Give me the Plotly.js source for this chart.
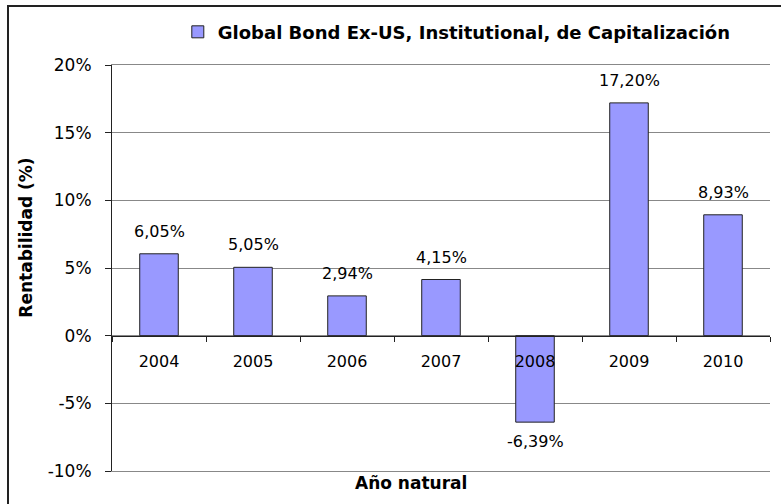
<!DOCTYPE html>
<html>
<head>
<meta charset="utf-8">
<script src="https://cdn.plot.ly/plotly-3.0.1.min.js"></script>
<style>
  html, body { margin: 0; padding: 0; background: #fff; }
  #wrap { position: relative; width: 781px; height: 504px; overflow: hidden; }
  #chart { position: absolute; left: 0; top: 0; width: 781px; height: 504px; }
  #frame { position: absolute; left: 7px; top: 5px; width: 800px; height: 520px; border: 2px solid #222; box-sizing: border-box; pointer-events: none; }
</style>
</head>
<body>
<div id="wrap">
  <div id="chart"></div>
  <div id="frame"></div>
</div>
<script>
const years = ['2004', '2005', '2006', '2007', '2008', '2009', '2010'];
const returns = [6.05, 5.05, 2.94, 4.15, -6.39, 17.20, 8.93];
const seriesName = 'Global Bond Ex-US, Institutional, de Capitalización';
const yTickVals = [-10, -5, 0, 5, 10, 15, 20];
const yTickText = yTickVals.map(v => v + '%');
const xTitle = 'Año natural';
const yTitle = 'Rentabilidad (%)';

const FONT = '"DejaVu Sans", Verdana, sans-serif';
const yRange = [-10, 20];
const zeroPos = (0 - yRange[0]) / (yRange[1] - yRange[0]);

const fmt = v => v.toFixed(2).replace('.', ',') + '%';

const trace = {
  type: 'bar',
  x: years,
  y: returns,
  name: seriesName,
  width: 0.41,
  marker: { color: '#9999FF', line: { color: '#222', width: 1 } },
  showlegend: true,
  hoverinfo: 'skip'
};

const frameTrace = {
  type: 'scatter', mode: 'none', x: years, y: returns, xaxis: 'x2',
  showlegend: false, hoverinfo: 'skip'
};

// category axes take the serial index of a category for annotation positions
const labelAnns = years.map((yr, i) => ({
  x: i, y: returns[i], xref: 'x', yref: 'y',
  text: fmt(returns[i]), showarrow: false,
  yanchor: returns[i] >= 0 ? 'bottom' : 'top',
  yshift: returns[i] >= 0 ? 11 : -8,
  font: { family: FONT, size: 16, color: '#000' }
}));

const titleAnns = [
  { xref: 'paper', yref: 'paper', x: (411 - 112) / 658, y: 0.001, xanchor: 'center', yanchor: 'top',
    text: xTitle, showarrow: false, font: { family: FONT, size: 17, color: '#000', weight: 'bold' } },
  { xref: 'paper', yref: 'paper', x: (26 - 112) / 658, y: (470.7 - 237.5) / 405.7, xanchor: 'center', yanchor: 'middle',
    text: yTitle, textangle: -90, showarrow: false, font: { family: FONT, size: 17, color: '#000', weight: 'bold' } }
];

const layout = {
  width: 781, height: 504,
  margin: { l: 112, r: 11, t: 65, b: 33 },
  paper_bgcolor: '#fff', plot_bgcolor: '#fff',
  font: { family: FONT, size: 16, color: '#000' },
  showlegend: true,
  legend: {
    orientation: 'h', x: 0.1, xanchor: 'left', y: 1.081, yanchor: 'middle',
    font: { family: FONT, size: 18, color: '#000', weight: 'bold' },
    bgcolor: 'rgba(0,0,0,0)', itemclick: false
  },
  xaxis: {
    type: 'category', anchor: 'free', position: zeroPos,
    showline: true, linecolor: '#222', linewidth: 1,
    ticks: 'outside', tickson: 'boundaries', ticklen: 5, tickcolor: '#222',
    showgrid: false, zeroline: false,
    tickfont: { family: FONT, size: 16, color: '#000' },
    ticklabelstandoff: 11
  },
  xaxis2: {
    type: 'category', overlaying: 'x', anchor: 'y', side: 'bottom',
    showticklabels: false, ticks: '', showgrid: false, zeroline: false,
    showline: true, linecolor: '#888', linewidth: 1, mirror: true
  },
  yaxis: {
    range: yRange, tickmode: 'array', tickvals: yTickVals, ticktext: yTickText,
    showgrid: true, gridcolor: '#888', gridwidth: 1,
    zeroline: false,
    showline: true, linecolor: '#222', linewidth: 1,
    ticks: 'outside', ticklen: 6, tickcolor: '#222',
    tickfont: { family: FONT, size: 17, color: '#000' },
    ticklabelstandoff: 10
  },
  annotations: labelAnns.concat(titleAnns)
};

Plotly.newPlot('chart', [trace, frameTrace], layout, { displayModeBar: false, staticPlot: true });
</script>
</body>
</html>
